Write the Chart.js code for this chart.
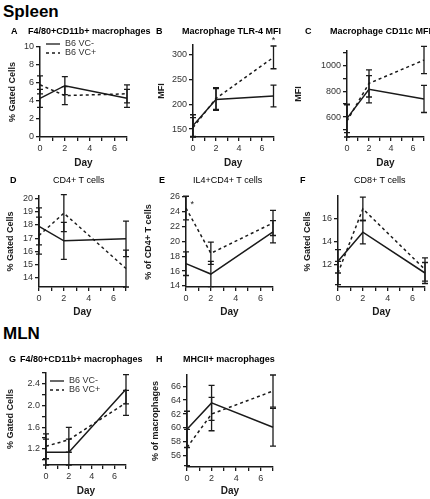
<!DOCTYPE html>
<html>
<head>
<meta charset="utf-8">
<script src="https://cdn.jsdelivr.net/npm/chart.js@4.4.1/dist/chart.umd.min.js"></script>
<style>
  body { margin: 0; background: #fff; font-family: "Liberation Sans", Arial, sans-serif; }
  #fig { position: relative; width: 430px; height: 499px; overflow: hidden; }
  #fig canvas { position: absolute; }
  .hd { position: absolute; font-weight: bold; font-size: 17px; line-height: 1; color: #000; }
  .pt { position: absolute; font-size: 9px; line-height: 1; color: #000; white-space: nowrap; will-change: transform; }
  .bold { font-weight: bold; }
</style>
</head>
<body>
<div id="fig">
  <div class="hd" style="left:3px;top:3px">Spleen</div>
  <div class="hd" style="left:3px;top:325px">MLN</div>

  <div class="pt bold" style="left:11px;top:27px">A</div>
  <div class="pt bold" style="left:28px;top:27px">F4/80+CD11b+ macrophages</div>
  <div class="pt bold" style="left:156px;top:27px">B</div>
  <div class="pt bold" style="left:182px;top:27px">Macrophage TLR-4 MFI</div>
  <div class="pt bold" style="left:305px;top:27px">C</div>
  <div class="pt bold" style="left:330px;top:27px">Macrophage CD11c MFI</div>

  <div class="pt bold" style="left:10px;top:176px">D</div>
  <div class="pt" style="left:53px;top:176px">CD4+ T cells</div>
  <div class="pt bold" style="left:159px;top:176px">E</div>
  <div class="pt" style="left:193px;top:176px">IL4+CD4+ T cells</div>
  <div class="pt bold" style="left:300px;top:176px">F</div>
  <div class="pt" style="left:354px;top:176px">CD8+ T cells</div>

  <div class="pt bold" style="left:9px;top:355px">G</div>
  <div class="pt bold" style="left:20px;top:355px">F4/80+CD11b+ macrophages</div>
  <div class="pt bold" style="left:156px;top:355px">H</div>
  <div class="pt bold" style="left:183px;top:355px">MHCII+ macrophages</div>
</div>
<script>
// ---- data ----
const days = [0, 2, 7];
const dayTicks = [0, 1, 2, 3, 4, 5, 6, 7];
const dayLabels = [0, 2, 4, 6];
const seriesNames = ['B6 VC-', 'B6 VC+'];

// A: spleen F4/80+CD11b+ macrophages (% gated cells)
const aVcMinus = [4.3, 5.7, 4.3];
const aVcMinusErr = [1.0, 1.0, 1.0];
const aVcPlus = [5.8, 4.6, 4.8];
const aVcPlusErr = [1.0, 1.0, 1.0];
const aYTicks = [0, 2, 4, 6, 8, 10];

// B: macrophage TLR-4 MFI
const bVcMinus = [157, 210, 217];
const bVcMinusErr = [22, 22, 22];
const bVcPlus = [153, 212, 295];
const bVcPlusErr = [20, 22, 23];
const bYTicks = [150, 200, 250, 300];

// C: macrophage CD11c MFI
const cVcMinus = [590, 815, 740];
const cVcMinusErr = [110, 105, 105];
const cVcPlus = [570, 860, 1040];
const cVcPlusErr = [125, 105, 105];
const cYTicks = [600, 800, 1000];
const cYMinor = [500, 700, 900, 1100];

// D: CD4+ T cells (% gated cells)
const dVcMinus = [17.9, 16.8, 16.95];
const dVcMinusErr = [1.4, 1.4, 1.35];
const dVcPlus = [17.2, 18.9, 14.7];
const dVcPlusErr = [1.4, 1.4, 1.4];
const dYTicks = [14, 15, 16, 17, 18, 19, 20];

// E: IL4+CD4+ T cells (% of CD4+ T cells)
const eVcMinus = [17.0, 15.6, 21.3];
const eVcMinusErr = [1.6, 1.7, 1.5];
const eVcPlus = [24.5, 18.4, 22.5];
const eVcPlusErr = [1.6, 1.5, 1.7];
const eYTicks = [14, 16, 18, 20, 22, 24, 26];

// F: CD8+ T cells (% gated cells)
const fVcMinus = [12.3, 14.8, 11.3];
const fVcMinusErr = [1.0, 1.0, 0.9];
const fVcPlus = [11.3, 16.8, 11.6];
const fVcPlusErr = [1.0, 1.0, 1.0];
const fYTicks = [12, 14, 16];

// G: MLN F4/80+CD11b+ macrophages (% gated cells)
const gVcMinus = [1.14, 1.14, 2.30];
const gVcMinusErr = [0.24, 0.24, 0.27];
const gVcPlus = [1.25, 1.37, 2.05];
const gVcPlusErr = [0.23, 0.23, 0.23];
const gYTicks = [1.2, 1.6, 2.0, 2.4];
const gYMinor = [1.0, 1.4, 1.8, 2.2, 2.6];

// H: MHCII+ macrophages (% of macrophages)
const hVcMinus = [59.8, 63.6, 60.1];
const hVcMinusErr = [2.6, 2.5, 2.7];
const hVcPlus = [57.2, 62.0, 65.3];
const hVcPlusErr = [2.6, 2.4, 2.3];
const hYTicks = [56, 58, 60, 62, 64, 66];

// significance marks (day, value)
const bStar = { day: 7, value: 334 };
const eStar = { day: 0.5, value: 25.2 };

// ---- drawing ----
const ink = '#1a1a1a';
const tickFont = { family: '"Liberation Sans", Arial, sans-serif', size: 9 };
const fig = document.getElementById('fig');

const errorBars = {
  id: 'errorBars',
  afterDatasetsDraw(chart) {
    const { ctx, chartArea, scales: { x, y } } = chart;
    ctx.save();
    chart.data.datasets.forEach(ds => {
      ctx.strokeStyle = ds.borderColor;
      ctx.lineWidth = 1.3;
      ctx.setLineDash([]);
      ds.data.forEach((pt, i) => {
        const e = ds.errors[i];
        const px = x.getPixelForValue(pt.x);
        const top = y.getPixelForValue(pt.y + e);
        const bot = Math.min(y.getPixelForValue(pt.y - e), chartArea.bottom);
        ctx.beginPath();
        ctx.moveTo(px, top); ctx.lineTo(px, bot);
        ctx.moveTo(px - 3, top); ctx.lineTo(px + 3, top);
        ctx.moveTo(px - 3, bot); ctx.lineTo(px + 3, bot);
        ctx.stroke();
      });
    });
    ctx.restore();
  }
};

const seriesKey = {
  id: 'seriesKey',
  afterDraw(chart, args, opts) {
    if (!opts.show) return;
    const { ctx, chartArea } = chart;
    chart.data.datasets.forEach((ds, i) => {
      const x0 = chartArea.left + opts.dx;
      const y0 = chartArea.top + opts.dy + i * 9;
      ctx.save();
      ctx.strokeStyle = ds.borderColor;
      ctx.lineWidth = 1.3;
      ctx.setLineDash(ds.borderDash || []);
      ctx.beginPath();
      ctx.moveTo(x0, y0); ctx.lineTo(x0 + 14, y0);
      ctx.stroke();
      ctx.fillStyle = '#333';
      ctx.font = '9px "Liberation Sans", Arial, sans-serif';
      ctx.textBaseline = 'middle';
      ctx.fillText(ds.label, x0 + 19, y0);
      ctx.restore();
    });
  }
};

const starMark = {
  id: 'starMark',
  afterDraw(chart, args, opts) {
    if (!opts.show) return;
    const { ctx, scales: { x, y } } = chart;
    ctx.save();
    ctx.fillStyle = ink;
    ctx.font = '9px "Liberation Sans", Arial, sans-serif';
    ctx.textAlign = 'center';
    ctx.textBaseline = 'middle';
    ctx.fillText('*', x.getPixelForValue(opts.day), y.getPixelForValue(opts.value) + 2);
    ctx.restore();
  }
};

function panel(p) {
  const [bx, by, bw, bh] = p.box;
  const [l, t, r, b] = p.area;
  const cv = document.createElement('canvas');
  cv.width = bw; cv.height = bh;
  cv.style.left = bx + 'px'; cv.style.top = by + 'px';
  cv.style.width = bw + 'px'; cv.style.height = bh + 'px';
  fig.appendChild(cv);

  const yAll = p.yTicks.concat(p.yMinor || []).sort((m, n) => m - n);
  const line = (name, vals, errs, dash) => ({
    label: name,
    data: days.map((d, i) => ({ x: d, y: vals[i] })),
    errors: errs,
    borderColor: ink,
    borderWidth: 1.5,
    borderDash: dash,
    pointRadius: 0,
    tension: 0,
    clip: false
  });

  new Chart(cv, {
    type: 'line',
    data: {
      datasets: [
        line(seriesNames[0], p.minus, p.minusErr, []),
        line(seriesNames[1], p.plus, p.plusErr, [3, 3])
      ]
    },
    options: {
      responsive: false,
      animation: false,
      layout: { padding: { left: 0, top: t - by, right: bx + bw - r, bottom: 0 } },
      scales: {
        x: {
          type: 'linear', min: 0, max: 7,
          afterFit: s => { s.height = by + bh - b; },
          afterBuildTicks: s => { s.ticks = dayTicks.map(v => ({ value: v })); },
          ticks: {
            autoSkip: false, maxRotation: 0, padding: 2, color: '#333', font: tickFont,
            callback: v => dayLabels.includes(v) ? String(v) : ''
          },
          grid: { drawOnChartArea: false, tickLength: 4, color: ink, lineWidth: 1.3 },
          border: { color: ink, width: 1.5 },
          title: {
            display: true, text: 'Day', color: ink,
            font: { family: tickFont.family, size: 10, weight: 'bold' },
            padding: { top: 2, bottom: 1 }
          }
        },
        y: {
          min: p.yMin, max: p.yMax,
          afterFit: s => { s.width = l - bx; },
          afterBuildTicks: s => { s.ticks = yAll.map(v => ({ value: v })); },
          ticks: {
            autoSkip: false, padding: 2, color: '#333', font: tickFont,
            callback: v => p.yTicks.includes(v) ? v.toFixed(p.dec || 0) : ''
          },
          grid: { drawOnChartArea: false, tickLength: 4, color: ink, lineWidth: 1.3 },
          border: { color: ink, width: 1.5 },
          title: {
            display: true, text: p.yTitle, color: ink,
            font: { family: tickFont.family, size: 9, weight: 'bold' },
            padding: { top: 0, bottom: 0 }
          }
        }
      },
      plugins: {
        legend: { display: false },
        tooltip: { enabled: false },
        seriesKey: p.key || { show: false },
        starMark: p.star ? Object.assign({ show: true }, p.star) : { show: false }
      }
    },
    plugins: [errorBars, seriesKey, starMark]
  });
}

// Spleen row 1
panel({ box: [7, 35, 128, 135], area: [40, 47, 127, 137], yMin: 0, yMax: 10, yTicks: aYTicks,
  yTitle: '% Gated Cells', minus: aVcMinus, minusErr: aVcMinusErr, plus: aVcPlus, plusErr: aVcPlusErr,
  key: { show: true, dx: 6, dy: -3 } });
panel({ box: [156, 35, 124, 135], area: [193, 45, 273.5, 137], yMin: 134, yMax: 320, yTicks: bYTicks,
  yTitle: 'MFI', minus: bVcMinus, minusErr: bVcMinusErr, plus: bVcPlus, plusErr: bVcPlusErr, star: bStar });
panel({ box: [293, 35, 137, 135], area: [347, 51, 424, 137], yMin: 446, yMax: 1110, yTicks: cYTicks, yMinor: cYMinor,
  yTitle: 'MFI', minus: cVcMinus, minusErr: cVcMinusErr, plus: cVcPlus, plusErr: cVcPlusErr });

// Spleen row 2
panel({ box: [5, 186, 129, 133], area: [39, 196, 126, 287], yMin: 13.3, yMax: 20.2, yTicks: dYTicks,
  yTitle: '% Gated Cells', minus: dVcMinus, minusErr: dVcMinusErr, plus: dVcPlus, plusErr: dVcPlusErr });
panel({ box: [143, 186, 137, 133], area: [186, 197, 273, 287], yMin: 13.85, yMax: 26, yTicks: eYTicks,
  yTitle: '% of CD4+ T cells', minus: eVcMinus, minusErr: eVcMinusErr, plus: eVcPlus, plusErr: eVcPlusErr, star: eStar });
panel({ box: [302, 186, 128, 133], area: [338, 196, 425, 287], yMin: 10.1, yMax: 17.9, yTicks: fYTicks,
  yTitle: '% Gated Cells', minus: fVcMinus, minusErr: fVcMinusErr, plus: fVcPlus, plusErr: fVcPlusErr });

// MLN
panel({ box: [5, 363, 129, 135], area: [46, 373, 126, 465], yMin: 0.905, yMax: 2.6, yTicks: gYTicks, yMinor: gYMinor, dec: 1,
  yTitle: '% Gated Cells', minus: gVcMinus, minusErr: gVcMinusErr, plus: gVcPlus, plusErr: gVcPlusErr,
  key: { show: true, dx: 4, dy: 8 } });
panel({ box: [150, 363, 130, 135], area: [187, 375, 273, 467], yMin: 54.4, yMax: 67.6, yTicks: hYTicks,
  yTitle: '% of macrophages', minus: hVcMinus, minusErr: hVcMinusErr, plus: hVcPlus, plusErr: hVcPlusErr });
</script>
</body>
</html>
